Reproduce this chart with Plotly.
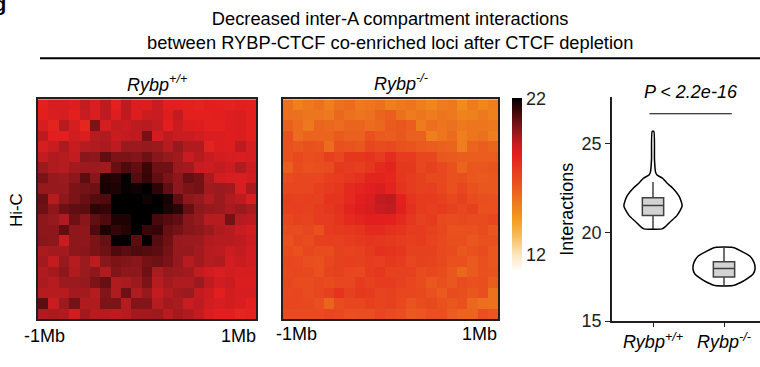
import plotly.graph_objects as go

W, H = 760, 367

# ---------------- data ----------------
# Hi-C aggregate matrices (rows top -> bottom), values read from colours
wt_matrix = [
    [18.3,18.7,18.7,18.5,19.1,18.6,19.2,18.3,19.2,18.6,18.5,19.0,18.4,18.4,18.3,18.2,18.4,18.3,18.2,18.4,18.3],
    [18.4,18.6,18.7,18.3,19.0,18.6,19.2,18.5,19.2,18.5,18.9,19.0,18.5,19.1,18.3,18.3,18.3,18.4,18.5,18.6,18.3],
    [18.7,18.2,19.3,18.7,18.1,20.2,18.7,19.1,19.0,19.2,19.3,19.1,18.4,19.0,18.6,18.5,18.3,18.3,18.5,18.6,18.3],
    [19.2,18.4,18.4,18.8,18.6,19.3,19.4,19.0,19.1,19.2,20.3,18.8,19.2,19.0,19.0,18.8,18.6,18.6,18.5,18.6,18.3],
    [18.7,19.0,19.5,19.0,19.3,19.4,19.5,19.2,19.7,19.7,19.8,19.7,19.3,19.8,19.4,19.4,18.2,18.6,18.5,19.2,18.7],
    [19.1,19.4,19.3,19.1,20.0,19.9,20.6,20.2,20.2,20.1,20.4,20.0,19.8,19.6,19.0,19.3,19.0,18.8,18.7,18.6,18.7],
    [19.7,19.4,19.3,19.6,19.7,19.7,19.6,20.5,20.9,20.6,21.2,20.4,20.4,19.7,19.6,19.0,18.9,19.1,18.9,19.4,18.9],
    [20.2,19.8,19.7,19.9,20.7,20.0,21.6,21.5,22.5,20.8,21.3,20.6,20.2,19.9,20.5,20.3,19.5,18.8,18.7,18.6,18.8],
    [19.8,19.8,19.8,20.2,20.3,20.4,21.7,21.6,21.9,21.8,22.5,21.4,20.6,19.9,20.2,20.3,19.6,19.7,19.6,18.7,19.5],
    [20.5,19.3,19.9,20.2,20.5,20.8,20.9,22.5,22.6,22.5,21.8,22.4,21.7,20.6,19.9,19.8,19.4,19.7,19.4,19.2,18.6],
    [20.4,19.9,20.4,20.6,20.7,21.4,21.3,22.5,22.6,22.6,22.5,22.5,21.6,21.4,20.5,19.9,19.8,19.7,19.5,19.7,19.5],
    [19.9,19.8,19.4,20.4,20.0,20.6,20.9,21.6,21.6,22.3,22.4,21.0,20.8,20.6,20.0,19.8,19.3,19.3,20.3,19.3,19.2],
    [19.9,19.9,20.6,19.9,19.9,20.9,21.6,21.3,21.5,22.6,21.2,21.3,20.5,20.3,20.0,19.9,19.7,19.4,19.3,19.0,18.8],
    [20.0,19.9,19.0,19.9,19.9,20.2,20.5,22.4,22.5,20.7,22.4,20.8,20.4,19.8,19.7,19.7,19.4,19.3,19.3,19.2,18.9],
    [19.5,19.6,19.6,19.9,20.0,20.2,20.4,20.9,20.7,20.9,20.8,20.7,20.3,19.8,19.8,19.6,19.3,19.2,18.9,19.1,18.8],
    [19.6,19.1,19.8,19.3,19.7,19.2,20.0,20.2,20.1,20.0,20.3,20.4,20.2,19.8,19.3,19.6,19.3,19.4,18.8,19.0,18.8],
    [19.4,19.6,19.9,19.4,19.7,19.9,19.4,20.1,19.9,19.9,20.4,19.5,19.8,19.7,19.6,19.1,18.8,18.6,18.8,18.7,18.7],
    [19.5,19.3,19.7,19.7,19.8,20.2,20.5,19.4,19.5,19.7,20.2,19.3,19.6,19.4,19.4,19.7,19.2,18.8,19.0,18.6,18.6],
    [19.3,19.3,19.3,19.6,19.6,19.3,20.1,19.4,20.4,19.4,19.8,19.1,19.4,19.6,19.7,19.1,18.9,18.4,18.8,18.7,18.7],
    [20.7,19.0,19.7,20.3,19.4,19.4,20.2,20.2,19.3,20.1,20.1,19.3,19.6,19.5,19.0,19.2,18.8,18.7,18.8,18.6,18.3],
    [19.4,19.5,19.4,18.8,19.6,19.3,19.3,19.2,19.3,19.6,19.6,19.7,19.3,19.6,19.4,19.1,18.6,18.4,18.4,18.1,18.2],
]

ko_matrix = [
    [15.6,15.1,15.4,15.6,15.2,15.6,15.8,15.4,15.5,15.6,15.2,15.4,15.5,15.2,14.9,15.3,15.4,14.8,15.3,14.9,15.2],
    [15.7,15.6,15.5,15.5,15.4,15.9,15.6,15.5,15.6,16.0,16.2,15.6,15.3,15.5,15.3,15.5,15.4,15.0,15.1,15.4,15.1],
    [16.1,15.8,15.4,16.0,15.9,15.8,16.0,16.0,15.8,15.9,16.3,16.4,16.2,15.3,15.7,15.5,15.6,15.4,15.5,15.5,15.4],
    [16.6,15.8,16.0,16.0,16.0,16.3,16.1,16.1,16.6,16.3,16.2,16.4,16.1,16.1,15.2,15.5,15.8,15.2,15.5,15.6,15.2],
    [16.6,16.4,16.6,16.5,15.8,16.6,16.5,16.4,17.0,16.8,16.9,16.6,16.5,16.3,16.2,16.1,16.0,15.2,16.0,16.2,16.0],
    [16.6,16.9,16.7,16.8,17.3,17.0,17.6,17.6,17.7,17.4,17.9,17.4,17.4,17.0,17.0,16.4,16.3,16.2,16.2,16.2,16.2],
    [16.2,16.8,16.6,16.7,16.8,17.5,17.4,17.3,17.6,18.0,18.2,17.6,17.5,17.0,17.2,16.9,16.6,16.0,16.4,16.4,16.5],
    [16.8,17.0,17.0,17.0,17.3,17.4,17.6,17.8,18.2,18.2,18.1,17.6,17.4,17.2,16.9,16.9,16.6,16.7,16.4,16.3,16.4],
    [17.0,17.0,17.0,17.3,17.4,17.6,18.0,18.2,18.4,18.6,18.2,17.7,17.4,17.2,17.3,17.0,16.6,17.0,16.6,16.4,16.4],
    [17.3,17.2,17.3,17.2,17.7,17.7,18.0,18.4,18.6,19.1,19.2,18.3,17.7,17.4,17.4,17.2,17.0,17.2,16.8,16.7,16.6],
    [17.2,17.3,17.2,17.4,17.6,17.8,18.2,18.5,18.7,19.0,19.1,18.4,17.8,17.4,17.3,17.4,17.2,17.0,17.2,16.6,16.6],
    [17.0,17.2,17.1,17.4,17.4,17.7,18.0,18.2,18.4,18.4,18.3,18.0,17.6,17.2,17.4,16.9,16.8,16.9,16.8,16.8,17.0],
    [16.8,16.8,17.0,16.6,17.4,17.5,17.6,17.7,18.0,18.0,17.8,17.7,17.4,17.4,17.2,17.0,16.6,16.6,16.6,16.8,16.4],
    [16.6,17.0,16.8,17.2,17.3,17.2,17.4,17.5,17.7,17.6,17.5,17.4,17.3,17.4,17.1,16.9,16.7,16.7,16.4,16.6,16.6],
    [16.8,16.6,17.0,16.8,16.8,17.2,17.1,17.2,17.5,17.8,17.7,17.6,17.2,17.2,17.2,16.9,16.8,16.4,16.6,16.8,16.4],
    [17.0,16.9,16.7,16.6,17.0,17.2,17.3,17.2,17.4,17.3,17.5,17.4,17.0,17.2,17.1,16.9,16.6,16.6,16.3,16.6,16.4],
    [16.9,17.0,16.9,16.6,17.1,17.2,17.0,16.9,17.4,17.6,17.2,17.2,17.2,16.8,17.0,16.8,16.4,15.9,16.3,16.6,16.5],
    [17.0,16.8,16.8,17.0,16.8,17.0,17.0,17.4,17.2,17.4,17.4,17.2,17.0,16.8,16.4,16.7,16.4,16.8,16.6,16.7,16.2],
    [16.9,17.0,16.8,17.0,17.2,17.7,17.2,17.5,17.4,17.1,17.2,17.0,17.0,16.9,16.6,16.3,16.8,16.7,16.4,16.7,15.6],
    [17.0,17.0,16.9,16.7,16.0,16.8,17.0,17.0,17.2,17.1,17.2,16.9,16.5,16.8,16.9,16.6,16.4,16.6,15.9,15.7,15.6],
    [16.8,16.8,16.8,16.8,17.0,16.9,16.6,16.7,16.7,17.0,16.8,16.7,16.3,16.4,16.6,16.6,16.2,16.0,16.0,16.6,16.4],
]

colorbar_ticks = [12, 22]
cmin, cmax = 11, 22

groups = ["Rybp<sup>+/+</sup>", "Rybp<sup>-/-</sup>"]
edge_labels = ["-1Mb", "1Mb"]

# violin outlines: value and relative density (1 = widest)
v1_values = [25.7, 24.1, 23.42, 23.24, 23.06, 22.79, 22.51, 22.05, 21.5, 20.95, 20.59, 20.31, 20.2]
v1_density = [0.026, 0.048, 0.081, 0.13, 0.31, 0.45, 0.63, 0.84, 0.94, 0.77, 0.55, 0.39, 0.29]
v2_values = [19.15, 18.94, 18.66, 18.30, 17.93, 17.65, 17.38, 17.16, 17.0]
v2_density = [0.29, 0.56, 0.84, 0.97, 1.0, 0.94, 0.74, 0.52, 0.29]

# box statistics
box_lower = [20.2, 17.0]
box_q1 = [20.95, 17.48]
box_median = [21.52, 17.97]
box_q3 = [21.96, 18.35]
box_upper = [22.85, 19.12]

y_ticks = [15, 20, 25]
p_text = "P < 2.2e-16"
sig_y = 26.7

# ---------------- helpers ----------------
def fx(px):
    return px / W

def fy(py):
    return 1 - py / H

FONT = "Liberation Sans, Arial, sans-serif"
FS = 18

colorscale = [
    [0.0, "#fffcf5"],
    [0.09, "#fce6bd"],
    [0.2, "#f7bb58"],
    [0.3, "#f39a1c"],
    [0.4, "#ed781e"],
    [0.5, "#e9531e"],
    [0.6, "#e5361e"],
    [0.67, "#e31e1e"],
    [0.73, "#c81c20"],
    [0.79, "#9c1a1e"],
    [0.86, "#6a1014"],
    [0.93, "#3a0608"],
    [1.0, "#000000"],
]

fig = go.Figure()

hm_domains = [(38, 256), (283, 498)]
hm_y = (102, 328)
for i, (mat, dom) in enumerate(zip([wt_matrix, ko_matrix], hm_domains)):
    sfx = "" if i == 0 else str(i + 1)
    fig.add_trace(go.Heatmap(z=mat, coloraxis="coloraxis",
                             xaxis="x" + sfx, yaxis="y" + sfx,
                             xgap=0, ygap=0, hoverinfo="skip"))
    fig.update_layout(**{
        "xaxis" + sfx: dict(domain=[fx(dom[0]), fx(dom[1])], showticklabels=False,
                            ticks="", showgrid=False, zeroline=False,
                            showline=True, mirror=True, linecolor="#231f20", linewidth=1.5,
                            range=[-0.5, 20.5], anchor="y" + sfx),
        "yaxis" + sfx: dict(domain=[fy(hm_y[1]), fy(hm_y[0])], showticklabels=False,
                            ticks="", showgrid=False, zeroline=False,
                            showline=True, mirror=True, linecolor="#231f20", linewidth=1.5,
                            range=[20.5, -0.5], anchor="x" + sfx),
    })

fig.update_layout(coloraxis=dict(
    colorscale=colorscale, cmin=cmin, cmax=cmax,
    colorbar=dict(x=fx(512), xanchor="left", xref="paper", xpad=0, ypad=0,
                  y=fy(101), yanchor="top", yref="paper",
                  len=172, lenmode="pixels", thickness=10,
                  outlinewidth=0, tickvals=colorbar_ticks, ticks="",
                  tickfont=dict(family=FONT, size=FS, color="#231f20")),
))

# ---- violin panel ----
vx_dom = (612, 760)
vy_dom = (100, 330)
unit = 71.0  # px per category
x_range = [(vx_dom[0] - 653) / unit, (vx_dom[1] - 653) / unit]
max_half = 31.0 / unit

for c, (vals, dens) in enumerate([(v1_values, v1_density), (v2_values, v2_density)]):
    xs = [c + d * max_half for d in dens] + [c - d * max_half for d in reversed(dens)] + [c + dens[0] * max_half]
    ys = list(vals) + list(reversed(vals)) + [vals[0]]
    fig.add_trace(go.Scatter(x=xs, y=ys, mode="lines",
                             line=dict(color="black", width=1.5, shape="spline", smoothing=0.6),
                             xaxis="x3", yaxis="y3", hoverinfo="skip", showlegend=False))

fig.add_trace(go.Box(x=[0, 1], q1=box_q1, median=box_median, q3=box_q3,
                     lowerfence=box_lower, upperfence=box_upper,
                     fillcolor="#d3d3d3", line=dict(color="#404040", width=1.5),
                     width=0.3, whiskerwidth=0, boxpoints=False,
                     xaxis="x3", yaxis="y3", hoverinfo="skip", showlegend=False))

fig.update_layout(
    xaxis3=dict(domain=[fx(vx_dom[0]), fx(vx_dom[1])], range=x_range, anchor="y3",
                tickvals=[0, 1], ticktext=["<i>%s</i>" % g for g in groups],
                ticks="outside", ticklen=4, tickwidth=1.2, tickcolor="#231f20",
                showline=True, linecolor="#231f20", linewidth=1.5,
                showgrid=False, zeroline=False,
                tickfont=dict(family=FONT, size=FS, color="black")),
    yaxis3=dict(domain=[fy(vy_dom[1]), fy(vy_dom[0])], range=[15, 27.63], anchor="x3",
                tickvals=y_ticks, ticks="outside", ticklen=5, tickwidth=1.2, tickcolor="#231f20",
                showline=True, linecolor="#231f20", linewidth=1.5,
                showgrid=False, zeroline=False,
                tickfont=dict(family=FONT, size=FS, color="#231f20"),
                title=dict(text="Interactions", font=dict(family=FONT, size=FS, color="black"), standoff=3)),
)

shapes = [
    dict(type="line", xref="paper", yref="paper", x0=fx(40), x1=fx(760), y0=fy(60), y1=fy(60),
         line=dict(color="black", width=2)),
    dict(type="line", xref="x3", yref="y3", x0=-0.05, x1=1.11, y0=sig_y, y1=sig_y,
         line=dict(color="black", width=1.2)),
]

annotations = [
    dict(text="Decreased inter-A compartment interactions<br>between RYBP-CTCF co-enriched loci after CTCF depletion",
         x=fx(390), y=fy(31), xref="paper", yref="paper", showarrow=False,
         font=dict(family=FONT, size=18.3, color="black"), xanchor="center", yanchor="middle"),
    dict(text="<i>%s</i>" % groups[0], x=fx(157), y=fy(86), xref="paper", yref="paper", showarrow=False,
         font=dict(family=FONT, size=FS, color="black"), xanchor="center", yanchor="middle"),
    dict(text="<i>%s</i>" % groups[1], x=fx(401), y=fy(85), xref="paper", yref="paper", showarrow=False,
         font=dict(family=FONT, size=FS, color="black"), xanchor="center", yanchor="middle"),
    dict(text="Hi-C", x=fx(16), y=fy(216), xref="paper", yref="paper", showarrow=False, textangle=-90,
         font=dict(family=FONT, size=17, color="black"), xanchor="center", yanchor="middle"),
    dict(text="<i>%s</i>" % p_text, x=fx(691), y=fy(95), xref="paper", yref="paper", showarrow=False,
         font=dict(family=FONT, size=FS, color="black"), xanchor="center", yanchor="middle"),
    dict(text="<b>g</b>", x=fx(8), y=fy(-9), xref="paper", yref="paper", showarrow=False,
         xanchor="right", yanchor="top", font=dict(family=FONT, size=20, color="black")),
]
edge_pos = [(22, 258), (274, 499)]
edge_y = [345, 343]
for (l, r), ey in zip(edge_pos, edge_y):
    annotations.append(dict(text=edge_labels[0], x=fx(l), y=fy(ey), xref="paper", yref="paper",
                            xanchor="left", yanchor="middle",
                            showarrow=False, font=dict(family=FONT, size=FS, color="black")))
    annotations.append(dict(text=edge_labels[1], x=fx(r), y=fy(ey), xref="paper", yref="paper",
                            xanchor="right", yanchor="middle",
                            showarrow=False, font=dict(family=FONT, size=FS, color="black")))

fig.update_layout(width=W, height=H, margin=dict(l=0, r=0, t=0, b=0),
                  paper_bgcolor="white", plot_bgcolor="white",
                  shapes=shapes, annotations=annotations, showlegend=False)

fig.write_html("out.html", config={"displayModeBar": False},
               post_script="document.body.style.margin='0px';document.body.style.overflow='hidden';")
